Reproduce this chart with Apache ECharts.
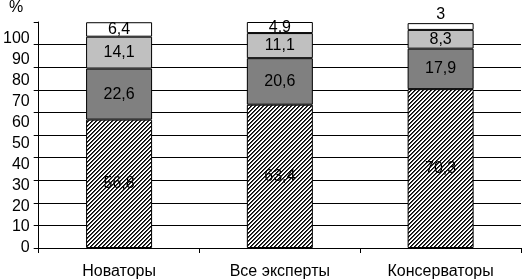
<!DOCTYPE html>
<html><head><meta charset="utf-8">
<script src="https://cdn.jsdelivr.net/npm/echarts@6/dist/echarts.min.js"></script>
<style>html,body{margin:0;padding:0;background:#fff}#c{width:522px;height:280px}</style>
</head><body><div id="c"></div>
<script>
const categories = ['Новаторы', 'Все эксперты', 'Консерваторы'];
const hatched = [56.8, 63.4, 70.3];
const darkGray = [22.6, 20.6, 17.9];
const lightGray = [14.1, 11.1, 8.3];
const white = [6.4, 4.9, 3];
const yTicks = [0, 10, 20, 30, 40, 50, 60, 70, 80, 90, 100];

const tile = document.createElement('canvas');
tile.width = 4; tile.height = 4;
const tc = tile.getContext('2d');
tc.fillStyle = '#fff'; tc.fillRect(0, 0, 4, 4);
for (let x = 0; x < 4; x++) for (let y = 0; y < 4; y++) {
  const k = (x + y) % 4;
  if (k === 0) { tc.fillStyle = '#000'; tc.fillRect(x, y, 1, 1); }
  else if (k === 1) { tc.fillStyle = '#444'; tc.fillRect(x, y, 1, 1); }
}

const FONT = 'Liberation Sans, Arial';
const fmt = p => String(p.value).replace('.', ',');
const lbl = (extra) => Object.assign({show: true, position: 'inside', color: '#000', fontSize: 16, fontFamily: FONT, formatter: fmt}, extra || {});
const border = {borderColor: '#000', borderWidth: 1};

const chart = echarts.init(document.getElementById('c'));
chart.setOption({
  animation: false,
  grid: {left: 35, right: 1, top: 22, bottom: 32},
  graphic: [{type: 'text', left: 9, top: 0, style: {text: '%', fontSize: 16, fontFamily: FONT, fill: '#000'}}],
  xAxis: {
    type: 'category', data: categories,
    axisLine: {lineStyle: {color: '#000', width: 1}},
    axisTick: {show: true, length: 5, lineStyle: {color: '#000'}},
    axisLabel: {color: '#000', fontSize: 16, fontFamily: FONT, margin: 16}
  },
  yAxis: [{
    type: 'value', min: 0, max: 100, interval: 10,
    axisLine: {show: true, lineStyle: {color: '#000'}},
    axisTick: {show: true, length: 5, lineStyle: {color: '#000'}},
    axisLabel: {show: false},
    splitLine: {show: true, showMinLine: false, showMaxLine: false, lineStyle: {color: '#000', width: 1}}
  }, {
    type: 'value', min: 0, max: 108.1, interval: 10, position: 'left',
    axisLine: {show: false}, axisTick: {show: false}, splitLine: {show: false},
    axisLabel: {color: '#000', fontSize: 16, fontFamily: FONT, margin: 9,
      formatter: v => yTicks.includes(Math.round(v * 1000) / 1000) ? String(Math.round(v)) : ''}
  }],
  series: [
    {type: 'bar', stack: 's', barWidth: 66, data: hatched, itemStyle: Object.assign({color: {image: tile, repeat: 'repeat'}}, border), label: lbl()},
    {type: 'bar', stack: 's', barWidth: 66, data: darkGray, itemStyle: Object.assign({color: '#808080'}, border), label: lbl()},
    {type: 'bar', stack: 's', barWidth: 66, data: lightGray, itemStyle: Object.assign({color: '#c0c0c0'}, border), label: lbl()},
    {type: 'bar', stack: 's', barWidth: 66, data: white.map((v, i) => i === 2 ? {value: v, label: {position: 'top', distance: 1}} : v), itemStyle: Object.assign({color: '#fff'}, border), label: lbl()}
  ]
});
</script></body></html>
